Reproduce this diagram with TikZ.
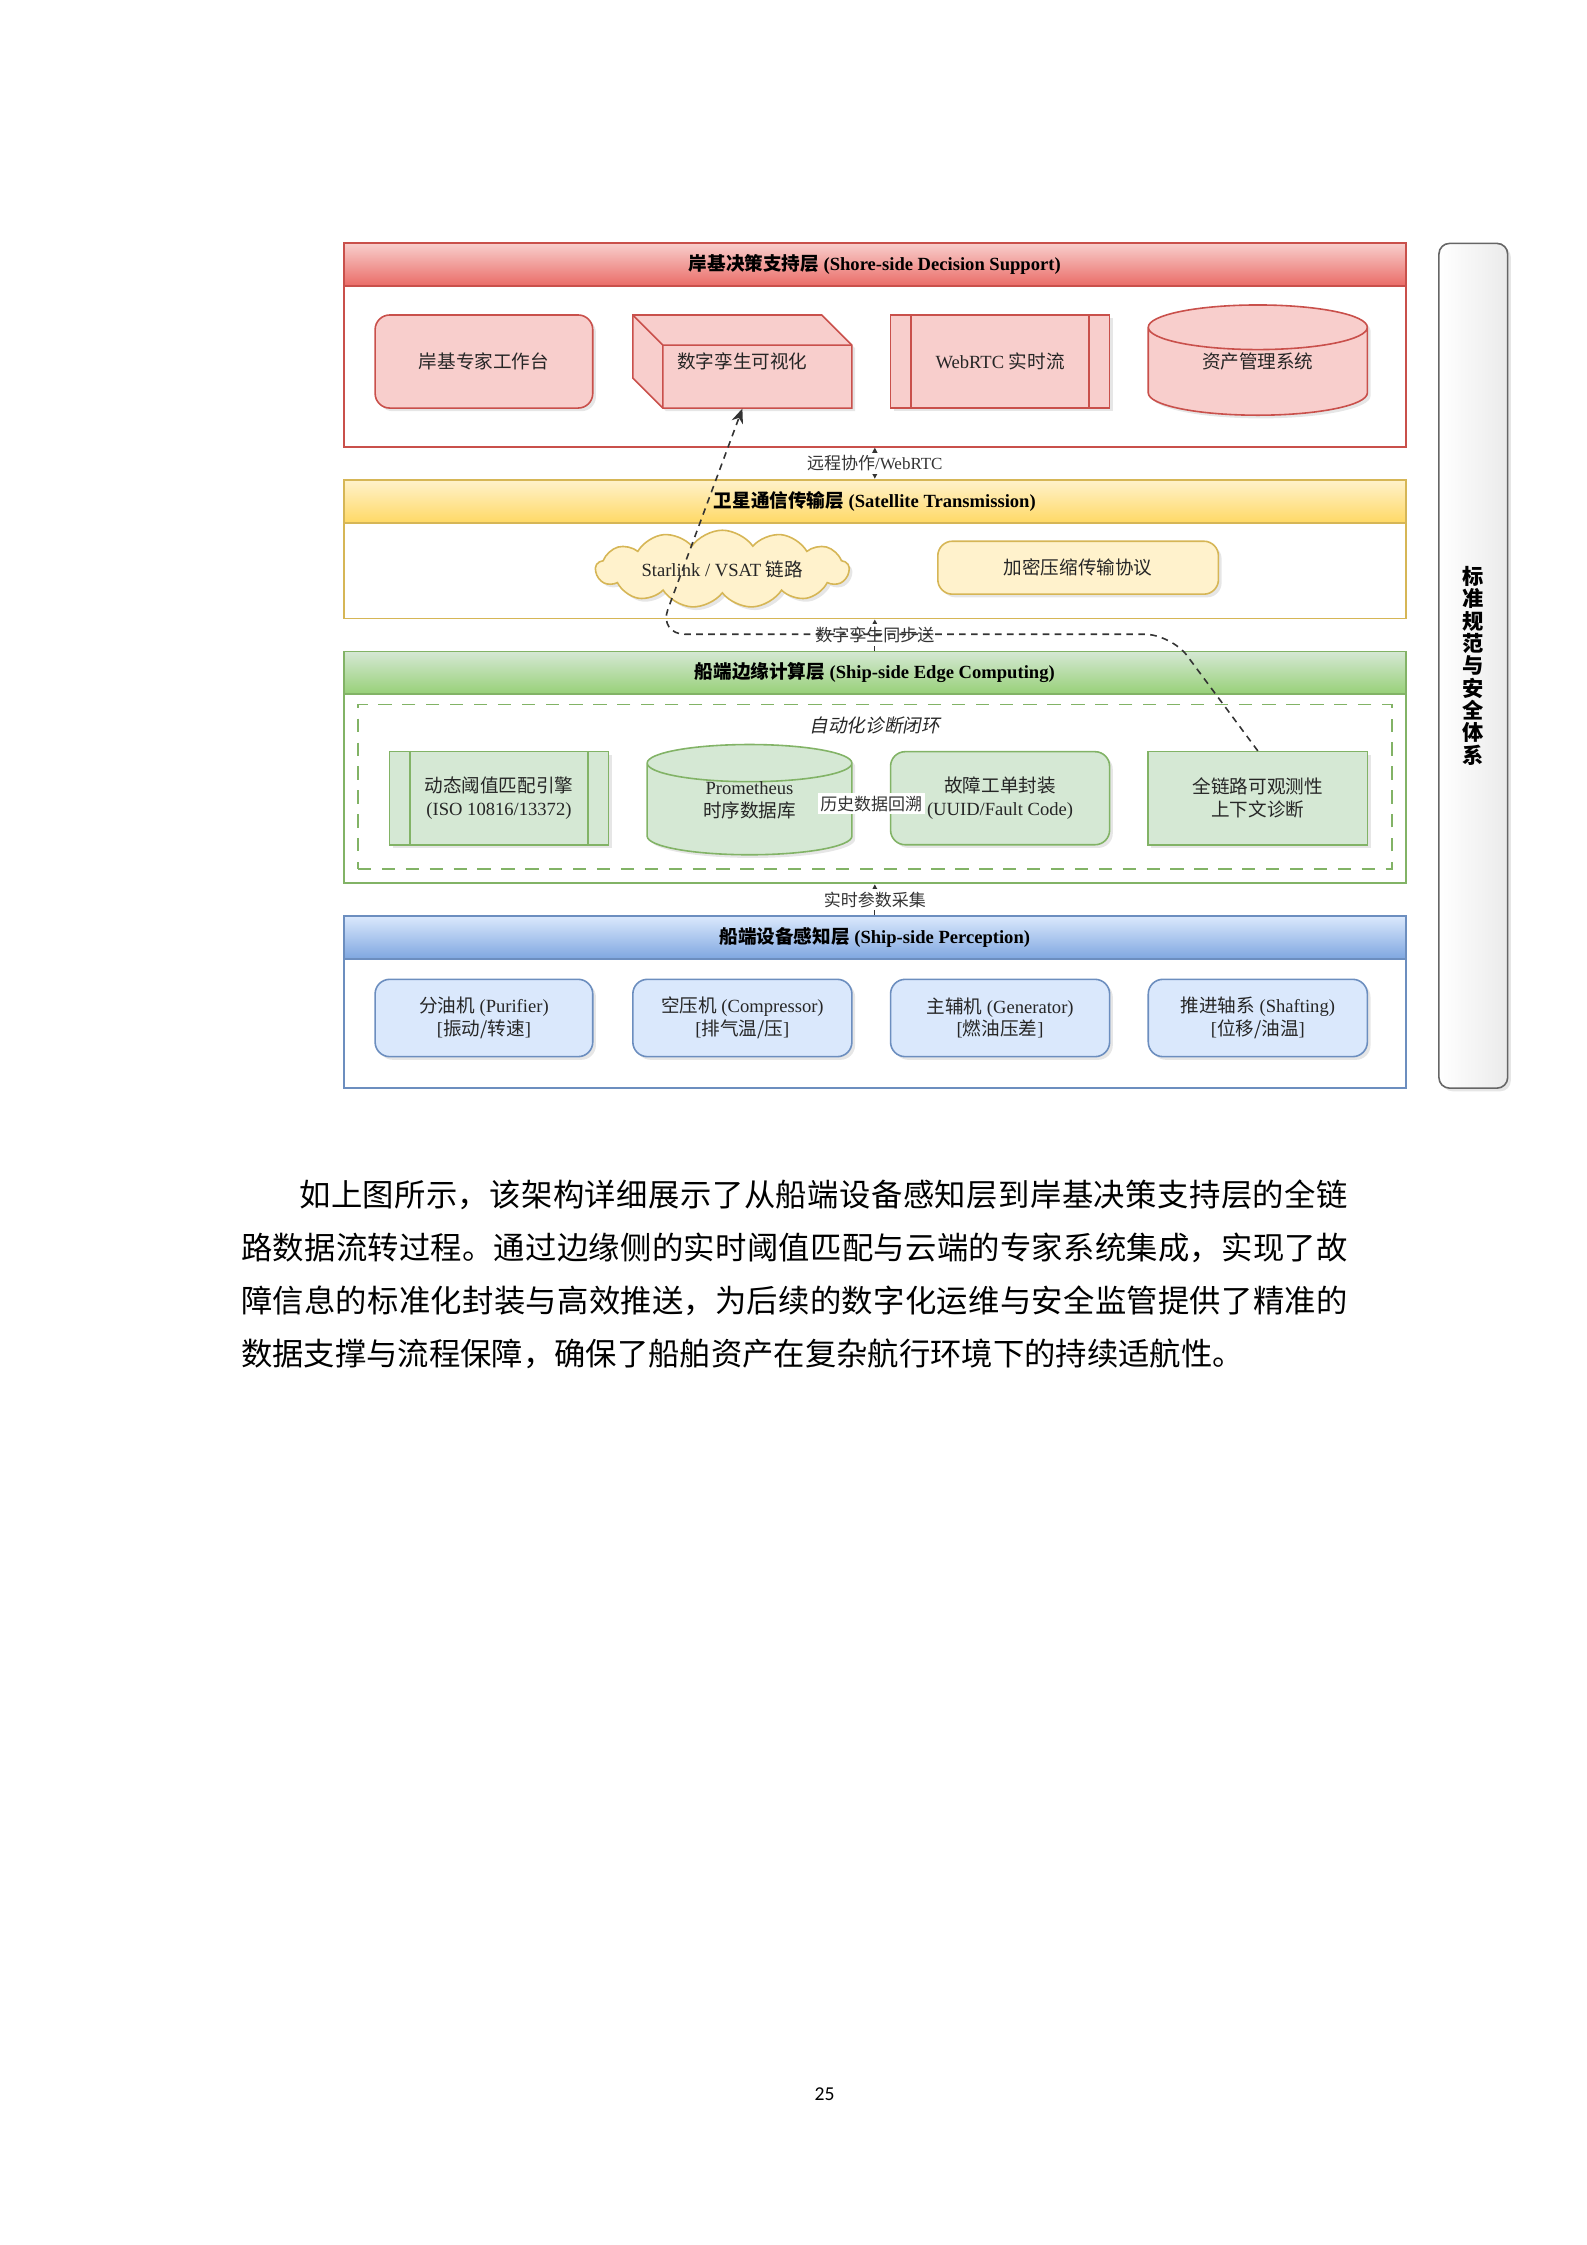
\documentclass[tikz,border=0pt]{standalone}
\usepackage{fontspec}
\setmainfont{Liberation Serif}
\newfontfamily\cjk{Noto Sans CJK SC}
\newfontfamily\cjkslant[FakeSlant=0.2]{Noto Sans CJK SC}
\newfontfamily\pgnum{Carlito}
\usetikzlibrary{positioning,calc,shapes.geometric,shapes.symbols,shadows,arrows.meta}
\XeTeXlinebreaklocale "zh"
\XeTeXlinebreakskip=0pt plus 1pt

\definecolor{redfill}{HTML}{F8CECC}
\definecolor{redgrad}{HTML}{EA6B66}
\definecolor{redline}{HTML}{C9504B}
\definecolor{yellowfill}{HTML}{FFF2CC}
\definecolor{yellowgrad}{HTML}{FFD966}
\definecolor{yellowline}{HTML}{D6B656}
\definecolor{greenfill}{HTML}{D5E8D4}
\definecolor{greengrad}{HTML}{97D077}
\definecolor{greenline}{HTML}{82B366}
\definecolor{bluefill}{HTML}{DAE8FC}
\definecolor{bluegrad}{HTML}{7EA6E0}
\definecolor{blueline}{HTML}{6C8EBF}

\newcommand{\ux}{0.018953cm}
% lift cylinder text to the middle of the whole shape
\newcommand{\cyltext}[1]{\raisebox{0.105cm}[\height][\depth]{\begin{tabular}{@{}c@{}}#1\end{tabular}}}

\begin{document}
\begin{tikzpicture}[x=0.018953cm, y=-0.018953cm, text=black!85,
  font=\fontsize{7}{8.6}\selectfont,
  >={Triangle[length=2.6pt,width=2.6pt]},
  dims/.style 2 args={minimum width=#1*\ux, minimum height=#2*\ux},
  layerbody/.style={draw=#1line, line width=0.7pt, inner sep=0pt, dims={742}{1}},
  layerhead/.style={draw=#1line, line width=0.7pt, top color=#1fill, bottom color=#1grad,
    inner sep=0pt, dims={742}{30}, text=black, font=\fontsize{7}{8}\selectfont\bfseries},
  comp/.style={draw=#1line, fill=#1fill, line width=0.6pt, inner sep=0pt, align=center,
    drop shadow={shadow xshift=1.2pt, shadow yshift=-1.2pt, opacity=0.2}},
  rbox/.style={comp=#1, rounded corners=5.5pt},
  dbase/.style={comp=#1, cylinder, shape border rotate=90, aspect=0.4, anchor=shape center},
  flow/.style={line width=0.5pt, black!80},
  lbl/.style={fill=white, inner sep=1pt, font=\cjk\fontsize{6.4}{7.5}\selectfont},
  syncline/.style={line width=0.6pt, black!80, dash pattern=on 2.5pt off 2pt, rounded corners=10pt,
    -{Stealth[length=5.5pt,width=4.5pt]}}]
\useasboundingbox (0,0) rectangle (1108,1568);

% layers
\node[layerbody=red, minimum height=142*\ux] (shore) at (611,241) {};
\node[layerhead=red] (shorehead) at (611,185) {{\cjk 岸基决策支持层} (Shore-side Decision Support)};
\node[layerbody=yellow, minimum height=97*\ux] (satcom) at (611,383.5) {};
\node[layerhead=yellow] (satcomhead) at (611,350) {{\cjk 卫星通信传输层} (Satellite Transmission)};
\node[layerbody=green, minimum height=162*\ux] (edgecomp) at (611,536) {};
\node[layerhead=green] (edgecomphead) at (611,470) {{\cjk 船端边缘计算层} (Ship-side Edge Computing)};
\node[layerbody=blue, minimum height=120*\ux] (sensing) at (611,700) {};
\node[layerhead=blue] (sensinghead) at (611,655) {{\cjk 船端设备感知层} (Ship-side Perception)};

\node[draw=black!60, line width=0.6pt, rounded corners=4pt, left color=white, right color=black!8, inner sep=0pt,
  drop shadow={shadow xshift=1.2pt, shadow yshift=-1.2pt, opacity=0.2},
  dims={48}{590}, align=center, text=black,
  font=\cjk\bfseries\fontsize{8}{8.4}\selectfont] (norm) at (1029,465) {标\\准\\规\\范\\与\\安\\全\\体\\系};

% shore-side
\node[rbox=red, dims={152}{65}] (expert) at (338,252.5) {{\cjk 岸基专家工作台}};
\filldraw[draw=redline, fill=redfill, line width=0.6pt,
  drop shadow={shadow xshift=1.2pt, shadow yshift=-1.2pt, opacity=0.2}]
  (442,220) -- (574,220) -- (595,241) -- (595,285) -- (463,285) -- (442,264) -- cycle;
\draw[redline, line width=0.6pt] (442,220) -- (463,241) -- (595,241) (463,241) -- (463,285);
\node[inner sep=0pt, dims={153}{65}] (twin) at (518.5,252.5) {{\cjk 数字孪生可视化}};
\node[comp=red, dims={153}{65}] (rtc) at (698.5,252.5) {WebRTC {\cjk 实时流}};
\draw[redline, line width=0.6pt] ($(rtc.north west)+(15,0)$) -- ($(rtc.south west)+(15,0)$)
  ($(rtc.north east)+(-15,0)$) -- ($(rtc.south east)+(-15,0)$);
\node[dbase=red, dims={153}{77}] (asset) at (878.5,251.5) {\cyltext{\cjk 资产管理系统}};

% satellite
\node[comp=yellow, cloud, cloud puffs=13, cloud puff arc=110, aspect=4.5, dims={177}{43}]
  (starlink) at (504.5,397.5) {Starlink / VSAT {\cjk 链路}};
\node[rbox=yellow, dims={196}{37}] (proto) at (753,396.5) {{\cjk 加密压缩传输协议}};

% edge computing
\node[draw=greenline, line width=0.7pt, dash pattern=on 5pt off 4pt, inner sep=0pt,
  dims={722}{115}] (diagloop) at (611,549.5) {};
\node[font=\cjkslant\fontsize{7}{8}\selectfont] (diaglbl) at (611,507) {自动化诊断闭环};
\node[comp=green, dims={153}{65}] (engine) at (348.5,557.5) {{\cjk 动态阈值匹配引擎}\\(ISO 10816/13372)};
\draw[greenline, line width=0.6pt] ($(engine.north west)+(15,0)$) -- ($(engine.south west)+(15,0)$)
  ($(engine.north east)+(-15,0)$) -- ($(engine.south east)+(-15,0)$);
\node[dbase=green, dims={143}{77}] (prom) at (523.5,558.5) {\cyltext{Prometheus\\{\cjk 时序数据库}}};
\node[rbox=green, dims={153}{65}] (ticket) at (698.5,557.5) {{\cjk 故障工单封装}\\(UUID/Fault Code)};
\node[comp=green, dims={153}{65}] (trace) at (878.5,557.5) {{\cjk 全链路可观测性}\\{\cjk 上下文诊断}};

% perception
\node[rbox=blue, dims={152}{54}] (purifier) at (338,711) {{\cjk 分油机} (Purifier)\\{[}{\cjk 振动/转速}{]}};
\node[rbox=blue, dims={153}{54}] (compressor) at (518.5,711) {{\cjk 空压机} (Compressor)\\{[}{\cjk 排气温/压}{]}};
\node[rbox=blue, dims={153}{54}] (generator) at (698.5,711) {{\cjk 主辅机} (Generator)\\{[}{\cjk 燃油压差}{]}};
\node[rbox=blue, dims={153}{54}] (shafting) at (878.5,711) {{\cjk 推进轴系} (Shafting)\\{[}{\cjk 位移/油温}{]}};

% connectors
\draw[flow, <->] (shore.south) -- (satcom.north) node[midway, lbl] {远程协作{\rmfamily/WebRTC}};
\draw[flow, ->] (edgecomp.north) -- (satcom.south) node[midway, lbl] {数字孪生同步送};
\draw[flow, ->] (sensing.north) -- (edgecomp.south) node[midway, lbl] {实时参数采集};
\draw[flow] (prom) -- (ticket) node[midway, lbl] {历史数据回溯};
\draw[syncline] (trace.north) -- (818,443) -- (460,443) -- (twin.south);

% text below the figure
\node[anchor=north west, inner sep=0pt, text width=14.65cm, align=justify, text=black,
  font=\cjk\fontsize{11.8}{19.95}\selectfont] (para) at (168,824)
  {\hspace*{0.77cm}如上图所示，该架构详细展示了从船端设备感知层到岸基决策支持层的全链\linebreak
   路数据流转过程。通过边缘侧的实时阈值匹配与云端的专家系统集成，实现了故\linebreak
   障信息的标准化封装与高效推送，为后续的数字化运维与安全监管提供了精准的\linebreak
   数据支撑与流程保障，确保了船舶资产在复杂航行环境下的持续适航性。};
\node[font=\pgnum\fontsize{7.4}{9}\selectfont, text=black] (pagenum) at (576,1463) {25};
\end{tikzpicture}
\end{document}
